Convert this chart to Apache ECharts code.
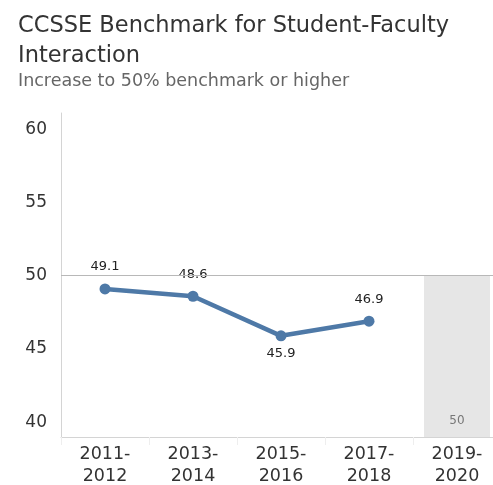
<!DOCTYPE html>
<html lang="en">
<head>
<meta charset="utf-8" />
<title>CCSSE Benchmark for Student-Faculty Interaction</title>
<script src="https://cdn.jsdelivr.net/npm/echarts@6/dist/echarts.min.js"></script>
<style>
  html, body { margin: 0; padding: 0; background: #fff; }
  #chart { width: 493px; height: 485px; }
</style>
</head>
<body>
<div id="chart"></div>
<script>
// categories (school years)
const years = ['2011-\n2012', '2013-\n2014', '2015-\n2016', '2017-\n2018', '2019-\n2020'];
// actual benchmark scores
const scores = [49.1, 48.6, 45.9, 46.9, null];
// target for the last year
const target = [null, null, null, null, 50];
// y tick labels
const yTicks = [40, 45, 50, 55, 60];

const chart = echarts.init(document.getElementById('chart'));
const font = '"DejaVu Sans", sans-serif';

chart.setOption({
  animation: false,
  textStyle: { fontFamily: font },
  title: {
    text: 'CCSSE Benchmark for Student-Faculty\nInteraction',
    subtext: 'Increase to 50% benchmark or higher',
    left: 13,
    top: 6,
    itemGap: -2,
    textStyle: { fontFamily: font, fontSize: 22.5, fontWeight: 'normal', color: '#333', lineHeight: 30 },
    subtextStyle: { fontFamily: font, fontSize: 17.5, color: '#666', lineHeight: 24 }
  },
  grid: { left: 61, width: 440, top: 113, bottom: 48, outerBoundsMode: 'none' },
  xAxis: {
    type: 'category',
    data: years,
    axisLine: { lineStyle: { color: '#d4d4d4', width: 1 } },
    axisTick: { show: true, length: 8, lineStyle: { color: '#eee' } },
    axisLabel: { color: '#333', fontSize: 17.5, lineHeight: 22, margin: 6 }
  },
  yAxis: {
    type: 'value',
    min: 39,
    max: 61.1,
    splitLine: { show: false },
    axisLine: { show: true, lineStyle: { color: '#d4d4d4' } },
    axisTick: { show: false },
    axisLabel: { color: '#333', fontSize: 17, margin: 14, customValues: yTicks }
  },
  series: [
    {
      name: 'Target',
      type: 'bar',
      data: target,
      barWidth: 66,
      itemStyle: { color: '#e6e6e6' },
      label: {
        show: true,
        position: 'insideBottom',
        distance: 10,
        color: '#777',
        fontSize: 12
      },
      markLine: {
        silent: true,
        symbol: 'none',
        label: { show: false },
        lineStyle: { color: '#b8b8b8', width: 1, type: 'solid' },
        data: [{ yAxis: 50 }]
      },
      z: 1
    },
    {
      name: 'Score',
      type: 'line',
      data: scores.map(function (v) {
        // 45.9 sits below its point
        if (v === 45.9) {
          return { value: v, label: { position: 'bottom', distance: 6 } };
        }
        return v;
      }),
      symbol: 'circle',
      symbolSize: 11,
      lineStyle: { color: '#4e79a7', width: 4.5 },
      itemStyle: { color: '#4e79a7' },
      label: {
        show: true,
        position: 'top',
        distance: 10,
        color: '#222',
        fontSize: 13
      },
      z: 3
    }
  ]
});
</script>
</body>
</html>
